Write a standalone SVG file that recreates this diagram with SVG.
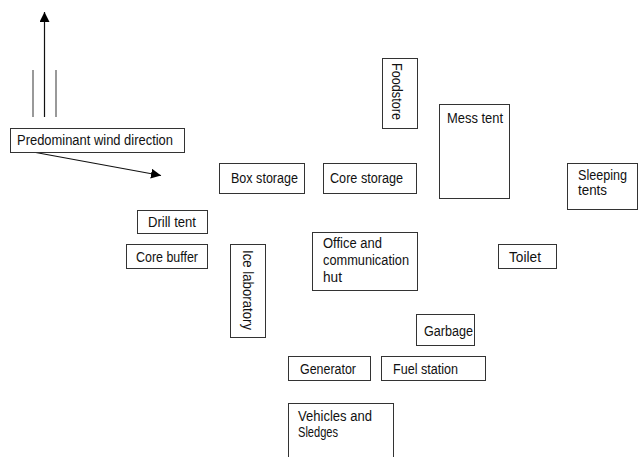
<svg xmlns="http://www.w3.org/2000/svg" width="638" height="457" viewBox="0 0 638 457">
<style>
.box{fill:#fff;stroke:#333;stroke-width:1}
text{font-family:"Liberation Sans Narrow","Liberation Sans",Arial,sans-serif;font-size:14px;fill:#111}
.ln{stroke:#111;stroke-width:1.2;fill:none}
.gl{stroke:#777;stroke-width:1.5;fill:none}
</style>
<defs>
<marker id="ah" viewBox="0 0 10 10" refX="10" refY="5" markerWidth="10" markerHeight="10" markerUnits="userSpaceOnUse" orient="auto">
<path d="M0,0 L10,5 L0,10 z" fill="#000"/>
</marker>
</defs>
<rect width="638" height="457" fill="#fff"/>
<g id="connectors">
<line class="gl" x1="33" y1="70" x2="33" y2="117"/>
<line class="gl" x1="56" y1="70" x2="56" y2="117"/>
<line class="ln" x1="44.5" y1="117" x2="44.5" y2="12" marker-end="url(#ah)"/>
<line class="ln" x1="33" y1="152" x2="161" y2="175.5" marker-end="url(#ah)"/>
</g>
<g id="wind">
<rect class="box" x="10.5" y="128.5" width="174" height="24"/>
<text x="17" y="145" textLength="156" lengthAdjust="spacingAndGlyphs">Predominant wind direction</text>
</g>
<g id="foodstore">
<rect class="box" x="382.5" y="58.5" width="35" height="70"/>
<text transform="translate(392,63) rotate(90)" textLength="57" lengthAdjust="spacingAndGlyphs">Foodstore</text>
</g>
<g id="mess">
<rect class="box" x="439.5" y="104.5" width="70" height="94"/>
<text x="447" y="123" textLength="56" lengthAdjust="spacingAndGlyphs">Mess tent</text>
</g>
<g id="box-storage">
<rect class="box" x="219.5" y="163.5" width="85" height="30"/>
<text x="231" y="183" textLength="67" lengthAdjust="spacingAndGlyphs">Box storage</text>
</g>
<g id="core-storage">
<rect class="box" x="323.5" y="163.5" width="93" height="30"/>
<text x="330" y="183" textLength="73" lengthAdjust="spacingAndGlyphs">Core storage</text>
</g>
<g id="sleeping">
<rect class="box" x="567.5" y="163.5" width="70" height="46"/>
<text x="578" y="180" textLength="49" lengthAdjust="spacingAndGlyphs">Sleeping</text>
<text x="578" y="195" textLength="29" lengthAdjust="spacingAndGlyphs">tents</text>
</g>
<g id="drill">
<rect class="box" x="137.5" y="210.5" width="70" height="23"/>
<text x="148" y="227" textLength="48" lengthAdjust="spacingAndGlyphs">Drill tent</text>
</g>
<g id="core-buffer">
<rect class="box" x="126.5" y="244.5" width="81" height="24"/>
<text x="136" y="262" textLength="62" lengthAdjust="spacingAndGlyphs">Core buffer</text>
</g>
<g id="ice-lab">
<rect class="box" x="230.5" y="244.5" width="35" height="93"/>
<text transform="translate(243,250) rotate(90)" textLength="80" lengthAdjust="spacingAndGlyphs">Ice laboratory</text>
</g>
<g id="office">
<rect class="box" x="312.5" y="232.5" width="105" height="58"/>
<text x="323" y="248" textLength="59" lengthAdjust="spacingAndGlyphs">Office and</text>
<text x="323" y="265" textLength="86" lengthAdjust="spacingAndGlyphs">communication</text>
<text x="323" y="282" textLength="19" lengthAdjust="spacingAndGlyphs">hut</text>
</g>
<g id="toilet">
<rect class="box" x="498.5" y="244.5" width="58" height="24"/>
<text x="509" y="262" textLength="32" lengthAdjust="spacingAndGlyphs">Toilet</text>
</g>
<g id="garbage">
<rect class="box" x="416.5" y="314.5" width="58" height="31"/>
<text x="424" y="336" textLength="49" lengthAdjust="spacingAndGlyphs">Garbage</text>
</g>
<g id="generator">
<rect class="box" x="288.5" y="356.5" width="82" height="24"/>
<text x="300" y="374" textLength="56" lengthAdjust="spacingAndGlyphs">Generator</text>
</g>
<g id="fuel">
<rect class="box" x="381.5" y="356.5" width="104" height="24"/>
<text x="393" y="374" textLength="65" lengthAdjust="spacingAndGlyphs">Fuel station</text>
</g>
<g id="vehicles">
<rect class="box" x="288.5" y="403.5" width="105" height="60"/>
<text x="298" y="421" textLength="74" lengthAdjust="spacingAndGlyphs">Vehicles and</text>
<text x="298" y="437" textLength="40" lengthAdjust="spacingAndGlyphs">Sledges</text>
</g>
</svg>
